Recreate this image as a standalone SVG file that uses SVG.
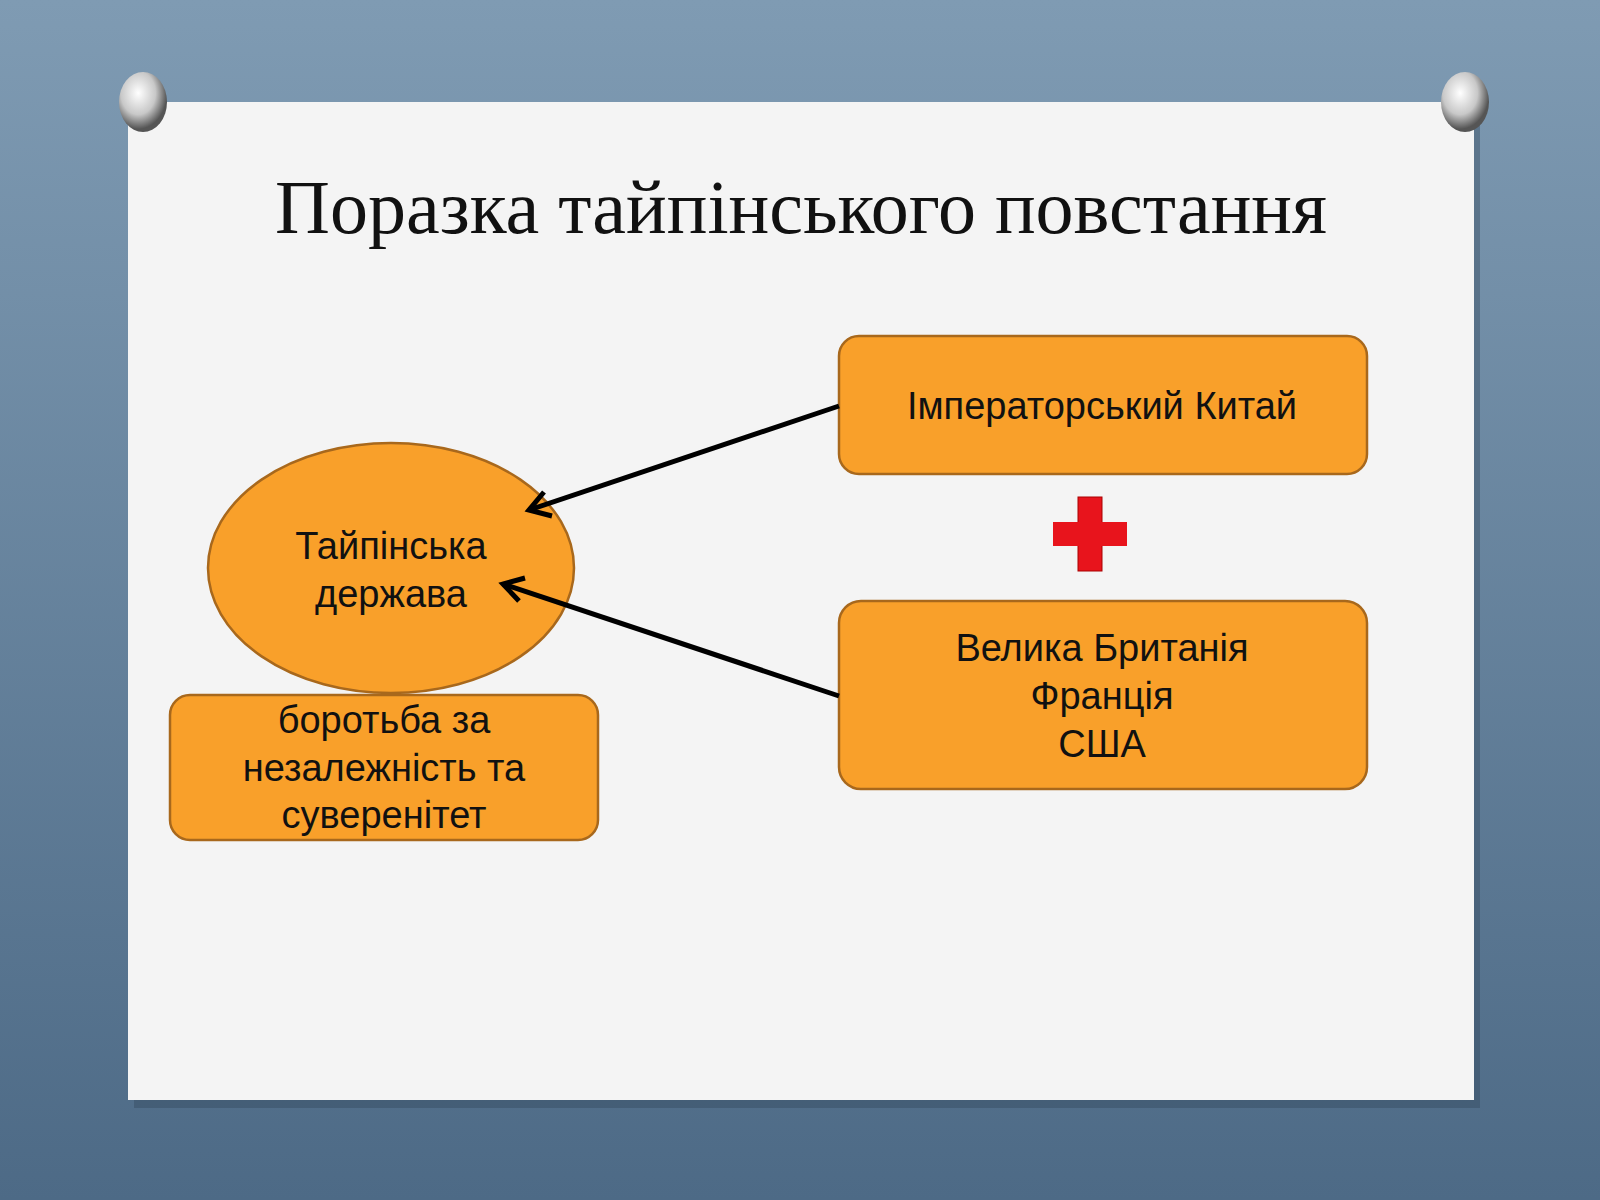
<svg xmlns="http://www.w3.org/2000/svg" width="1600" height="1200" viewBox="0 0 1600 1200">
<defs>
<linearGradient id="bg" x1="0" y1="0" x2="0" y2="1"><stop offset="0" stop-color="#7f9bb3"/><stop offset="1" stop-color="#4d6a86"/></linearGradient>
<radialGradient id="pin" cx="0.4" cy="0.35" r="0.6"><stop offset="0" stop-color="#ffffff"/><stop offset="0.6" stop-color="#c8c8c8"/><stop offset="1" stop-color="#555"/></radialGradient>
<style>
.n{fill:#f9a02a;stroke:#a8681c;stroke-width:2.5}
.t{font-family:"Liberation Sans",Arial,sans-serif;font-size:38px;fill:#111;text-anchor:middle}
.c{stroke:#000;stroke-width:5;fill:none}
</style>
</defs>
<rect width="1600" height="1200" fill="url(#bg)"/>
<rect x="134" y="108" width="1346" height="1000" fill="#33475a" opacity="0.4"/>
<rect x="128" y="102" width="1346" height="998" fill="#f4f4f4"/>
<g><ellipse cx="143" cy="102" rx="24" ry="30" fill="url(#pin)"/><ellipse cx="1465" cy="102" rx="24" ry="30" fill="url(#pin)"/></g>
<text x="801" y="233" text-anchor="middle" font-family="Liberation Serif,serif" font-size="76" fill="#111">Поразка тайпінського повстання</text>
<g id="china"><rect class="n" x="839" y="336" width="528" height="138" rx="20"/><text class="t" x="1102" y="419">Імператорський Китай</text></g>
<g id="plus"><rect x="1078" y="497" width="24" height="74" fill="#e8141c" stroke="#a00" stroke-width="1"/><rect x="1053" y="522" width="74" height="24" fill="#e8141c"/></g>
<g id="allies"><rect class="n" x="839" y="601" width="528" height="188" rx="22"/>
<text class="t" x="1102" y="661">Велика Британія</text><text class="t" x="1102" y="709">Франція</text><text class="t" x="1102" y="757">США</text></g>
<g id="taiping"><ellipse class="n" cx="391" cy="568" rx="183" ry="125"/>
<text class="t" x="391" y="559">Тайпінська</text><text class="t" x="391" y="607">держава</text></g>
<g id="struggle"><rect class="n" x="170" y="695" width="428" height="145" rx="20"/>
<text class="t" x="384" y="733">боротьба за</text><text class="t" x="384" y="781">незалежність та</text><text class="t" x="384" y="828">суверенітет</text></g>
<g id="connectors">
<path class="c" d="M839,406 L529,510"/>
<path d="M544,492 L529,510 L552,516" class="c"/>
<path class="c" d="M839,696 L503,584"/>
<path d="M525,578 L503,584 L519,601" class="c"/>
</g>
</svg>
